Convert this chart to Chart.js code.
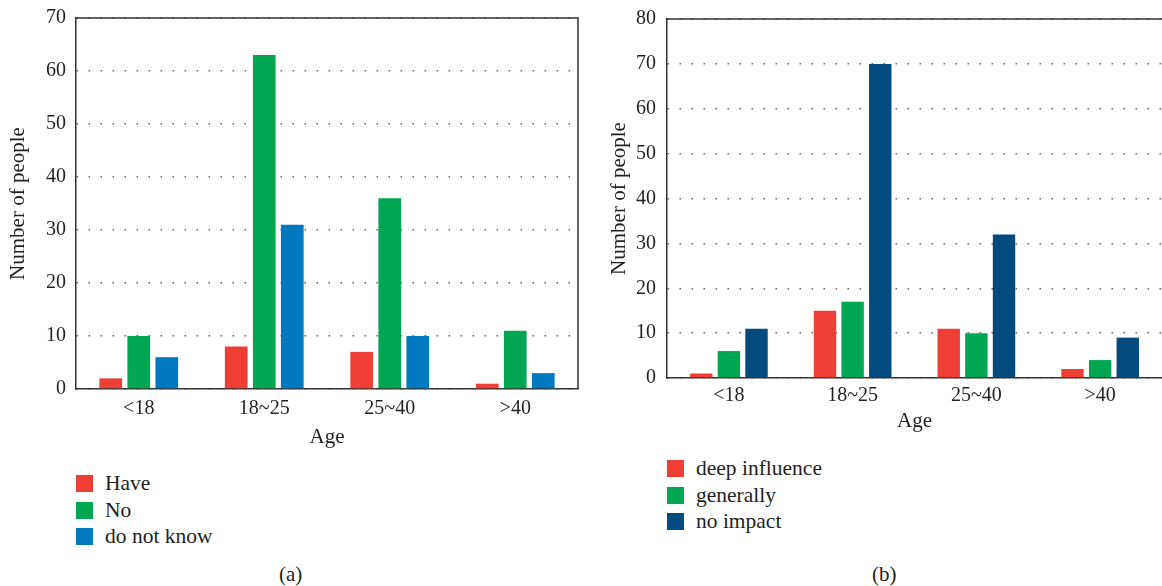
<!DOCTYPE html>
<html lang="en">
<head>
    <meta charset="UTF-8">
    <title>Age distribution charts</title>
    <script src="https://cdn.jsdelivr.net/npm/chart.js"></script>
    <style>
        body {
            margin: 0;
            background: #ffffff;
            font-family: 'Liberation Serif', 'Times New Roman', serif;
            color: #231f20;
        }
        #wrap {
            position: relative;
            width: 1162px;
            height: 586px;
        }
        .panel {
            position: absolute;
            top: 0;
            height: 450px;
        }
        .legend {
            position: absolute;
            font-family: 'Liberation Serif', 'Times New Roman', serif;
            font-size: 21.5px;
        }
        .legend div {
            position: relative;
            height: 26.5px;
            line-height: 26.5px;
            padding-left: 29px;
        }
        .legend span {
            position: absolute;
            left: 0;
            top: 5px;
            width: 17px;
            height: 17px;
        }
        .caption {
            position: absolute;
            top: 562px;
            font-family: 'Liberation Serif', 'Times New Roman', serif;
            font-size: 21px;
        }
    </style>
</head>
<body>
<div id="wrap">
    <div class="panel" style="left:0;width:590px;"><canvas id="chartA"></canvas></div>
    <div class="panel" style="left:590px;width:572px;"><canvas id="chartB"></canvas></div>
    <div class="legend" id="legendA" style="left:76px;top:470px;"></div>
    <div class="legend" id="legendB" style="left:667px;top:455px;"></div>
    <div class="caption" style="left:279px;">(a)</div>
    <div class="caption" style="left:872px;">(b)</div>
</div>

<script>
    const ageGroups = ['<18', '18~25', '25~40', '>40'];

    // (a)
    const knowLabels = ['Have', 'No', 'do not know'];
    const knowHave = [2, 8, 7, 1];
    const knowNo = [10, 63, 36, 11];
    const knowUnsure = [6, 31, 10, 3];
    const knowColors = ['#ef3e36', '#00a651', '#0079c1'];

    // (b)
    const impactLabels = ['deep influence', 'generally', 'no impact'];
    const impactDeep = [1, 15, 11, 2];
    const impactGeneral = [6, 17, 10, 4];
    const impactNone = [11, 70, 32, 9];
    const impactColors = ['#ef3e36', '#00a651', '#034a7e'];

    const textColor = '#231f20';
    const family = "'Liberation Serif', 'Times New Roman', serif";
    const font = { family: family, size: 20 };
    const yTickFont = { family: family, size: 20, lineHeight: 0.8 };
    const titleFont = { family: family, size: 21 };

    // solid line along the top (and optionally right) of the plot area
    function framePlugin(withRight) {
        return {
            id: 'frame',
            afterDraw(chart) {
                const a = chart.chartArea;
                const ctx = chart.ctx;
                ctx.save();
                ctx.strokeStyle = '#333';
                ctx.lineWidth = 1.5;
                ctx.beginPath();
                ctx.moveTo(a.left, a.top);
                ctx.lineTo(a.right, a.top);
                if (withRight) ctx.lineTo(a.right, a.bottom);
                ctx.stroke();
                ctx.restore();
            }
        };
    }

    function makeChart(id, labels, series, colors, cfg) {
        const ctx = document.getElementById(id).getContext('2d');
        return new Chart(ctx, {
            type: 'bar',
            data: {
                labels: ageGroups,
                datasets: series.map((s, i) => ({
                    label: labels[i],
                    data: s,
                    backgroundColor: colors[i],
                    categoryPercentage: 0.67,
                    barPercentage: 0.81
                }))
            },
            options: {
                responsive: true,
                maintainAspectRatio: false,
                animation: false,
                layout: { padding: { top: cfg.padTop, right: cfg.padRight, left: 0, bottom: 0 } },
                plugins: {
                    legend: { display: false },
                    tooltip: { enabled: false }
                },
                scales: {
                    x: {
                        grid: { display: false, drawTicks: false },
                        border: { display: true, color: '#333', width: 1.5 },
                        ticks: { color: textColor, font: font, padding: cfg.xTickPad },
                        title: {
                            display: true, text: 'Age', color: textColor, font: titleFont,
                            padding: { top: 0, bottom: cfg.xTitlePad }
                        },
                        afterFit(scale) { scale.height = cfg.xHeight; }
                    },
                    y: {
                        min: 0,
                        max: cfg.yMax,
                        ticks: { stepSize: 10, color: textColor, font: yTickFont, padding: cfg.yTickPad },
                        grid: { color: '#666', lineWidth: 1.5, drawTicks: false },
                        border: { display: true, color: '#333', width: 1.5, dash: [1.5, 10.5] },
                        title: {
                            display: true, text: 'Number of people', color: textColor, font: titleFont,
                            padding: { top: cfg.yTitlePad, bottom: 0 }
                        },
                        afterFit(scale) { scale.width = cfg.yWidth; }
                    }
                }
            },
            plugins: [framePlugin(cfg.rightBorder)]
        });
    }

    function buildLegend(id, labels, colors) {
        const box = document.getElementById(id);
        labels.forEach((l, i) => {
            box.innerHTML += `<div><span style="background:${colors[i]}"></span>${l}</div>`;
        });
    }

    makeChart('chartA', knowLabels, [knowHave, knowNo, knowUnsure], knowColors, {
        yMax: 70, padTop: 12, padRight: 12, yWidth: 76, xHeight: 61,
        xTickPad: 8, xTitlePad: 0, yTickPad: 10, yTitlePad: 6, rightBorder: true
    });
    makeChart('chartB', impactLabels, [impactDeep, impactGeneral, impactNone], impactColors, {
        yMax: 80, padTop: 12, padRight: 0, yWidth: 77, xHeight: 72,
        xTickPad: 6, xTitlePad: 16, yTickPad: 11, yTitlePad: 17, rightBorder: false
    });

    buildLegend('legendA', knowLabels, knowColors);
    buildLegend('legendB', impactLabels, impactColors);
</script>
</body>
</html>
